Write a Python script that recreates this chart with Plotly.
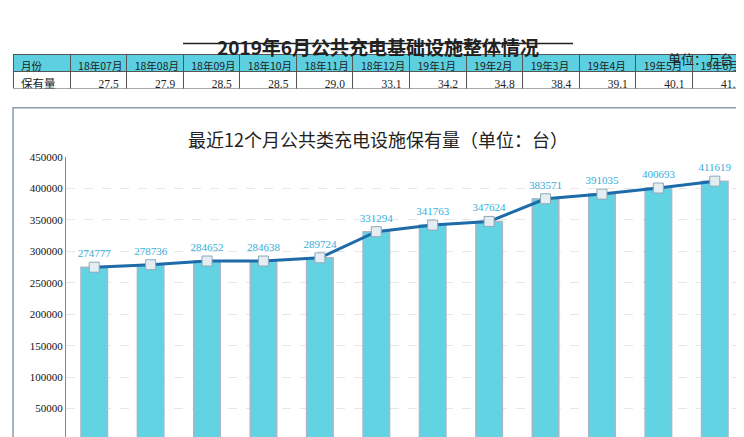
import plotly.graph_objects as go

months_tbl = ["18年07月","18年08月","18年09月","18年10月","18年11月","18年12月","19年1月","19年2月","19年3月","19年4月","19年5月","19年6月"]
stock_wan = ["27.5","27.9","28.5","28.5","29.0","33.1","34.2","34.8","38.4","39.1","40.1","41.2"]
values = [274777,278736,284652,284638,289724,331294,341763,347624,383571,391035,400693,411619]
cats = list(range(len(values)))

W, H = 744, 437
fig = go.Figure()

fig.add_trace(go.Table(
    domain=dict(x=[5/W, 741/W], y=[1-76/H, 1-41/H]),
    columnwidth=[57]+[56.5]*12,
    header=dict(values=["月份"]+months_tbl, fill_color="#5CD0E0", align="left",
                line=dict(color="#555", width=1), height=17,
                font=dict(family="Noto Sans CJK SC", size=10.5, color="#222")),
    cells=dict(values=[["保有量"]]+[[v] for v in stock_wan], fill_color="white",
               align=["left"]+["right"]*12, line=dict(color="#555", width=1), height=17,
               font=dict(family="Liberation Serif, Noto Sans CJK SC", size=11.5, color="#222")),
))

fig.add_trace(go.Bar(x=cats, y=values, width=0.47, marker=dict(color="#62D3E3",
               line=dict(color="#A9B6C8", width=1.5)), showlegend=False, hoverinfo="skip"))
fig.add_trace(go.Scatter(x=cats, y=values, mode="lines+markers+text", text=[str(v) for v in values],
               textposition="top center", textfont=dict(family="Liberation Serif", size=11, color="#35AEDB"),
               line=dict(color="#1E6BAA", width=3),
               marker=dict(symbol="square", size=10, color="#E4EEF2", line=dict(color="#8FA7B8", width=1)),
               showlegend=False, cliponaxis=False))

fig.update_layout(
    width=W, height=H, margin=dict(l=0, r=0, t=0, b=0),
    paper_bgcolor="white", plot_bgcolor="white", bargap=0.5,
    xaxis=dict(domain=[58/W, 735/W], range=[-0.5, 11.5], showticklabels=False,
               showgrid=False, zeroline=False, showline=True, linecolor="#888"),
    yaxis=dict(domain=[(H-432)/H, (H-145)/H], range=[0, 450000], dtick=50000,
               tickfont=dict(family="Liberation Serif", size=11, color="#111"),
               showgrid=True, gridcolor="#E6E6E6", griddash="dash", zeroline=False,
               showline=True, linecolor="#888", ticks="", tickformat="d"),
    shapes=[dict(type="rect", xref="paper", yref="paper", x0=5/W, x1=738/W, y0=-0.05, y1=1-95/H,
                 line=dict(color="#8A9AAA", width=1.5)),
            dict(type="line", xref="paper", yref="paper", x0=175/W, x1=565/W, y0=1-30/H, y1=1-30/H,
                 line=dict(color="#222", width=1.5))],
    annotations=[
        dict(text="<b>2019年6月公共充电基础设施整体情况</b>", x=370/W, y=1-17/H, xref="paper", yref="paper",
             showarrow=False, font=dict(family="Noto Sans CJK SC", size=19, color="#222")),
        dict(text="单位：万台", x=727/W, y=1-33/H, xref="paper", yref="paper", xanchor="right",
             showarrow=False, font=dict(family="Noto Sans CJK SC", size=13, color="#222")),
        dict(text="最近12个月公共类充电设施保有量（单位：台）", x=370/W, y=1-112/H, xref="paper", yref="paper",
             showarrow=False, font=dict(family="Noto Sans CJK SC", size=18, color="#222")),
    ],
)
fig.write_html("out.html")
